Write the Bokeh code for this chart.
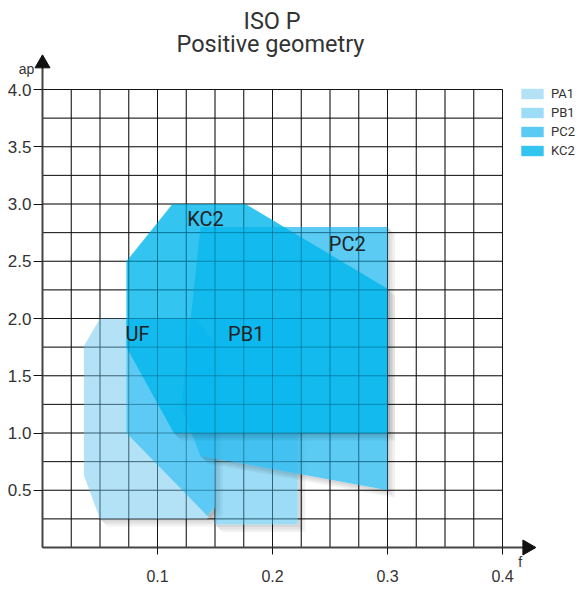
import math
from bokeh.plotting import figure
from bokeh.models import FixedTicker, Label, Legend, LegendItem, Title
from bokeh.core.properties import value
from bokeh.embed import file_html
from bokeh.resources import INLINE

# ---------------- data ----------------
TITLE_1 = "ISO P"
TITLE_2 = "Positive geometry"
X_NAME = "f"
Y_NAME = "ap"

x_ticks = [0.1, 0.2, 0.3, 0.4]
x_tick_labels = ["0.1", "0.2", "0.3", "0.4"]
y_ticks = [0.5, 1.0, 1.5, 2.0, 2.5, 3.0, 3.5, 4.0]
y_tick_labels = ["0.5", "1.0", "1.5", "2.0", "2.5", "3.0", "3.5", "4.0"]
x_grid = [0.0, 0.025, 0.05, 0.075, 0.1, 0.125, 0.15, 0.175, 0.2,
          0.225, 0.25, 0.275, 0.3, 0.325, 0.35, 0.375, 0.4]
y_grid = [0.0, 0.25, 0.5, 0.75, 1.0, 1.25, 1.5, 1.75, 2.0,
          2.25, 2.5, 2.75, 3.0, 3.25, 3.5, 3.75, 4.0]
X_MAX, Y_MAX = 0.4, 4.0
X_ARROW, Y_ARROW = 0.4215, 4.227

pa1_f = [0.036, 0.036, 0.050, 0.132, 0.150, 0.150, 0.143, 0.050]
pa1_ap = [0.63, 1.76, 2.00, 2.00, 1.78, 0.35, 0.25, 0.25]
uf_f = [0.073, 0.073, 0.132, 0.150, 0.150, 0.143]
uf_ap = [1.00, 2.00, 2.00, 1.78, 0.35, 0.28]
pb1_f = [0.150, 0.150, 0.222, 0.222]
pb1_ap = [0.20, 2.00, 2.00, 0.20]
pc2_f = [0.1206, 0.1374, 0.300, 0.300, 0.1374]
pc2_ap = [1.225, 2.80, 2.80, 0.50, 0.80]
kc2_f = [0.073, 0.073, 0.113, 0.1765, 0.300, 0.300, 0.1142]
kc2_ap = [1.75, 2.50, 3.00, 3.00, 2.26, 1.00, 1.00]

legend_names = ["PA1", "PB1", "PC2", "KC2"]
label_text = ["KC2", "PC2", "UF", "PB1"]
label_f = [0.1417, 0.2650, 0.0826, 0.1772]
label_ap = [2.870, 2.648, 1.867, 1.867]

# ---------------- layout ----------------
PX_PER_F = 1150.0     # screen px per unit of f
PX_PER_AP = 114.5     # screen px per unit of ap
CANVAS_W, CANVAS_H = 580, 588
TOP_BORDER = 50
FRAME_W, FRAME_H = CANVAS_W, CANVAS_H - TOP_BORDER
LEFT_PX, BOTTOM_PX = 42, 41       # distance of the origin from the frame's left / bottom edge

x_start = -LEFT_PX / PX_PER_F
y_start = -BOTTOM_PX / PX_PER_AP
x_end = x_start + FRAME_W / PX_PER_F
y_end = y_start + FRAME_H / PX_PER_AP
PX_F = 1.0 / PX_PER_F
PX_AP = 1.0 / PX_PER_AP

shapes = [
    ("PA1", pa1_f, pa1_ap, "#80cff2", 0.60),
    ("UF", uf_f, uf_ap, "#37c1f3", 0.70),
    ("PB1", pb1_f, pb1_ap, "#5cc5f0", 0.60),
    ("PC2", pc2_f, pc2_ap, "#26baf0", 0.75),
    ("KC2", kc2_f, kc2_ap, "#00b5ec", 0.80),
]


def hull(points):
    pts = sorted(set(points))

    def cross(o, a, b):
        return (a[0] - o[0]) * (b[1] - o[1]) - (a[1] - o[1]) * (b[0] - o[0])

    lower = []
    for q in pts:
        while len(lower) >= 2 and cross(lower[-2], lower[-1], q) <= 0:
            lower.pop()
        lower.append(q)
    upper = []
    for q in reversed(pts):
        while len(upper) >= 2 and cross(upper[-2], upper[-1], q) <= 0:
            upper.pop()
        upper.append(q)
    return lower[:-1] + upper[:-1]


p = figure(width=CANVAS_W, height=CANVAS_H,
           x_range=(x_start, x_end), y_range=(y_start, y_end),
           min_border_left=0, min_border_right=0, min_border_top=TOP_BORDER, min_border_bottom=0,
           toolbar_location=None, output_backend="svg", title=TITLE_1)
p.outline_line_color = None
p.xgrid.visible = False
p.ygrid.visible = False

# titles (the title added later sits nearer the frame)
title_style = dict(align="left", text_font="Roboto", text_font_size="23.5px",
                   text_font_style="normal", text_color="#333333")
p.title.update(offset=243, standoff=-1, **title_style)
p.add_layout(Title(text=TITLE_2, offset=176, standoff=-14, **title_style), "above")

# axes drawn at the origin
for ax in (p.xaxis[0], p.yaxis[0]):
    ax.fixed_location = 0
    ax.axis_line_color = None
    ax.minor_tick_line_color = None
    ax.major_tick_in = 0
    ax.major_tick_line_color = "#111111"
    ax.major_label_text_font = "Liberation Sans"
    ax.major_label_text_color = "#333333"
p.xaxis.ticker = FixedTicker(ticks=x_ticks)
p.xaxis.major_label_overrides = dict(zip(x_ticks, x_tick_labels))
p.xaxis.major_tick_out = 7
p.xaxis.major_label_standoff = 15
p.xaxis.major_label_text_font_size = "16px"
p.yaxis.ticker = FixedTicker(ticks=y_ticks)
p.yaxis.major_label_overrides = dict(zip(y_ticks, y_tick_labels))
p.yaxis.major_tick_out = 9
p.yaxis.major_label_standoff = 2
p.yaxis.major_label_text_font_size = "17px"

# grid beneath the shapes
n_x, n_y = len(x_grid), len(y_grid)
p.segment(x0=x_grid, y0=[0] * n_x, x1=x_grid, y1=[Y_MAX] * n_x, line_color="#1a1a1a", line_width=1)
p.segment(x0=[0] * n_y, y0=y_grid, x1=[X_MAX] * n_y, y1=y_grid, line_color="#1a1a1a", line_width=1)

# shapes with soft shadows
renderers = {}
for name, fx, fy, color, alpha in shapes:
    sx, sy = [], []
    for k in (2.5, 5.0, 7.5):
        pts = list(zip(fx, fy)) + [(x + k * PX_F, y - k * PX_AP) for x, y in zip(fx, fy)]
        h = hull(pts)
        sx.append([[[q[0] for q in h], list(fx)]])
        sy.append([[[q[1] for q in h], list(fy)]])
    p.multi_polygons(xs=sx, ys=sy, fill_color="black", fill_alpha=0.055, line_color=None)
    renderers[name] = p.patch(fx, fy, fill_color=color, fill_alpha=alpha, line_color=None)

# faint grid over the shapes
p.segment(x0=x_grid, y0=[0] * n_x, x1=x_grid, y1=[Y_MAX] * n_x, line_color="black",
          line_alpha=0.22, line_width=1)
p.segment(x0=[0] * n_y, y0=y_grid, x1=[X_MAX] * n_y, y1=y_grid, line_color="black",
          line_alpha=0.22, line_width=1)

p.text(x=label_f, y=label_ap, text=label_text, text_font=value("Roboto"),
       text_font_size=value("20px"), text_color="#222222",
       text_align="center", text_baseline="middle")

# axis lines with arrow heads
p.segment(x0=[0, 0], y0=[0, 0], x1=[X_ARROW, 0], y1=[0, Y_ARROW], line_color="#444444", line_width=2)
p.scatter(x=[X_ARROW, 0], y=[0, Y_ARROW], marker="triangle", size=15,
          angle=[-math.pi / 2, 0], fill_color="#111111", line_color="#111111")

p.add_layout(Label(x=0, y=Y_ARROW, text=Y_NAME, x_offset=-16, y_offset=-5,
                   text_align="center", text_baseline="middle",
                   text_font="Liberation Sans", text_font_size="14px", text_color="#333333"))
p.add_layout(Label(x=X_ARROW, y=0, text=X_NAME, x_offset=-7, y_offset=-14,
                   text_align="center", text_baseline="middle",
                   text_font="Liberation Sans", text_font_size="14px", text_color="#333333"))

legend = Legend(items=[LegendItem(label=n, renderers=[renderers[n]]) for n in legend_names],
                location=(518, 430), orientation="vertical",
                glyph_width=28, glyph_height=13, label_height=13, spacing=4,
                label_standoff=5, padding=0, margin=0,
                border_line_color=None, background_fill_alpha=0,
                label_text_font="Roboto", label_text_font_size="13px",
                label_text_color="#333333")
p.add_layout(legend)

open("out.html", "w").write(file_html(p, INLINE))
